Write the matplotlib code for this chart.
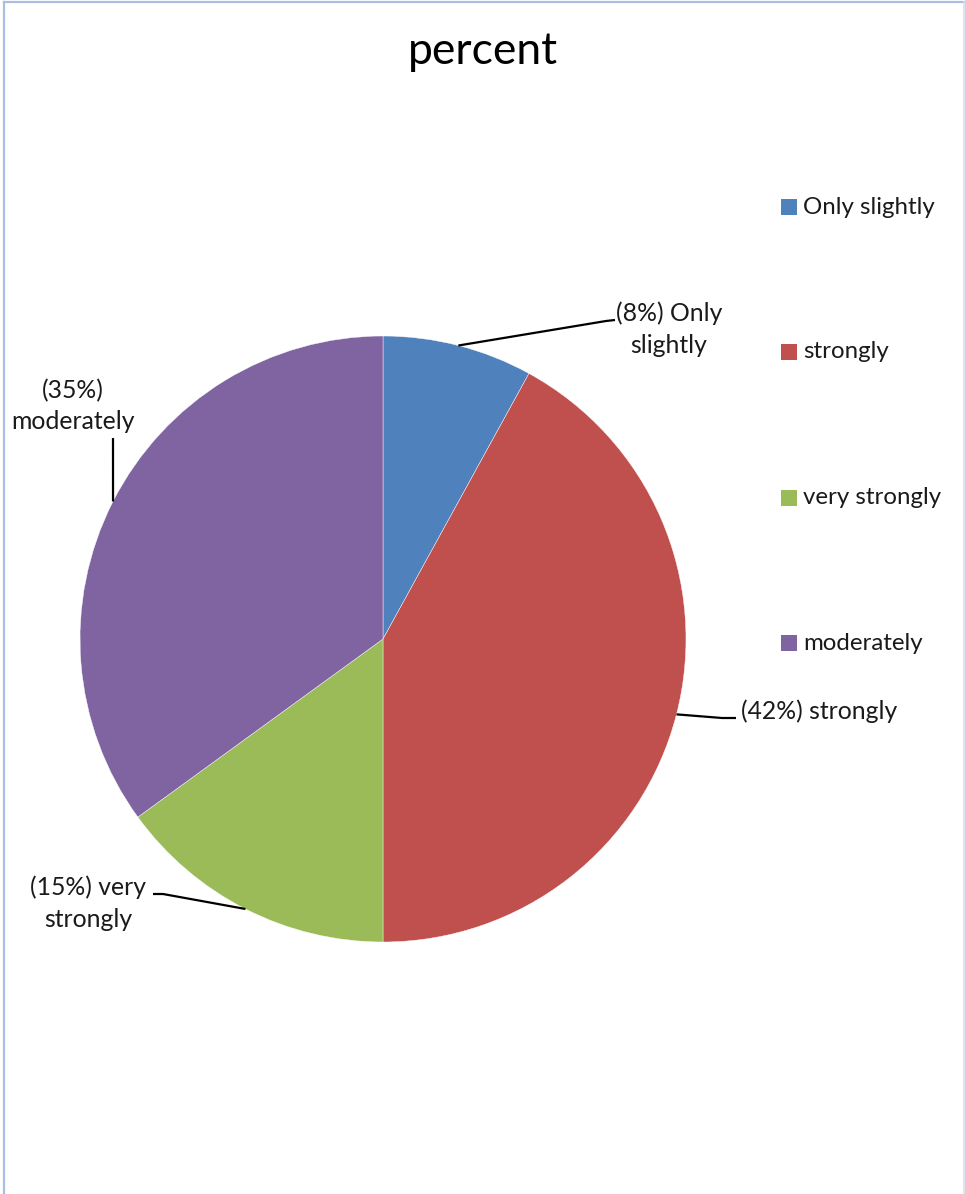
import matplotlib
matplotlib.use('Agg')
import matplotlib.pyplot as plt
from matplotlib.lines import Line2D
from matplotlib.patches import Rectangle
import numpy as np

plt.rcParams['font.family'] = ['Lato', 'DejaVu Sans']

W, H = 965, 1194
CX, CY, R = 383, 639, 303

labels = ['Only slightly', 'strongly', 'very strongly', 'moderately']
values = [8, 42, 15, 35]
colors = ['#4F81BD', '#C0504D', '#9BBB59', '#8064A2']
label_texts = ['(8%) Only\nslightly', '(42%) strongly', '(15%) very\nstrongly', '(35%)\nmoderately']

# label anchor, elbow and alignment in pixel coords (from top-left)
label_pos = [(669, 329), (741, 711), (88, 903), (73, 406)]
label_ha = ['center', 'left', 'center', 'center']
elbows = [[(606, 321), (615, 320)],
          [(722, 718), (736, 718)],
          [(163, 894), (153, 894)],
          [(113, 438)]]


def to_data(px, py):
    return (px - CX) / R, (CY - py) / R


fig = plt.figure(figsize=(W / 100, H / 100), dpi=100)
ax = fig.add_axes([(CX - R) / W, (H - CY - R) / H, 2 * R / W, 2 * R / H])
wedges, _ = ax.pie(values, colors=colors, startangle=90, counterclock=False,
                   radius=1, wedgeprops=dict(linewidth=0.3, edgecolor='white'))
ax.set_xlim(-1, 1)
ax.set_ylim(-1, 1)
ax.set_aspect('equal')
ax.axis('off')

# leader lines from wedge middles
total = sum(values)
start = 90.0
for i, v in enumerate(values):
    mid = np.deg2rad(start - v / total * 180.0)
    start -= v / total * 360.0
    pts = [(np.cos(mid), np.sin(mid))] + [to_data(*p) for p in elbows[i]]
    xs, ys = zip(*pts)
    ax.plot(xs, ys, color='black', linewidth=1.6, clip_on=False, solid_capstyle='butt')
    tx, ty = to_data(*label_pos[i])
    ax.text(tx, ty, label_texts[i], ha=label_ha[i], va='center', fontsize=17.8,
            color='#1a1a1a', linespacing=1.45, multialignment='center')

fig.text(483 / W, 1 - 52 / H, 'percent', ha='center', va='center', fontsize=32, color='black')

# legend drawn as stacked entries down the right side
leg_y = [207, 352, 498, 643]
for lab, col, y in zip(labels, colors, leg_y):
    fig.add_artist(Rectangle((781 / W, 1 - (y + 8) / H), 16 / W, 16 / H,
                             transform=fig.transFigure, facecolor=col, edgecolor='none'))
    fig.text(803 / W, 1 - y / H, lab, ha='left', va='center', fontsize=17.3, color='#1a1a1a')

# light chart-area border
border = '#A9BEE2'
fig.add_artist(Line2D([3.5 / W, 3.5 / W], [0, 1 - 1.5 / H], transform=fig.transFigure,
                      color=border, linewidth=1.6))
fig.add_artist(Line2D([3.5 / W, 963.5 / W], [1 - 1.5 / H, 1 - 1.5 / H], transform=fig.transFigure,
                      color=border, linewidth=1.6))
fig.add_artist(Line2D([963.5 / W, 963.5 / W], [0, 1 - 1.5 / H], transform=fig.transFigure,
                      color='#D5DEF0', linewidth=1.2))

fig.savefig('out.png', dpi=100)
